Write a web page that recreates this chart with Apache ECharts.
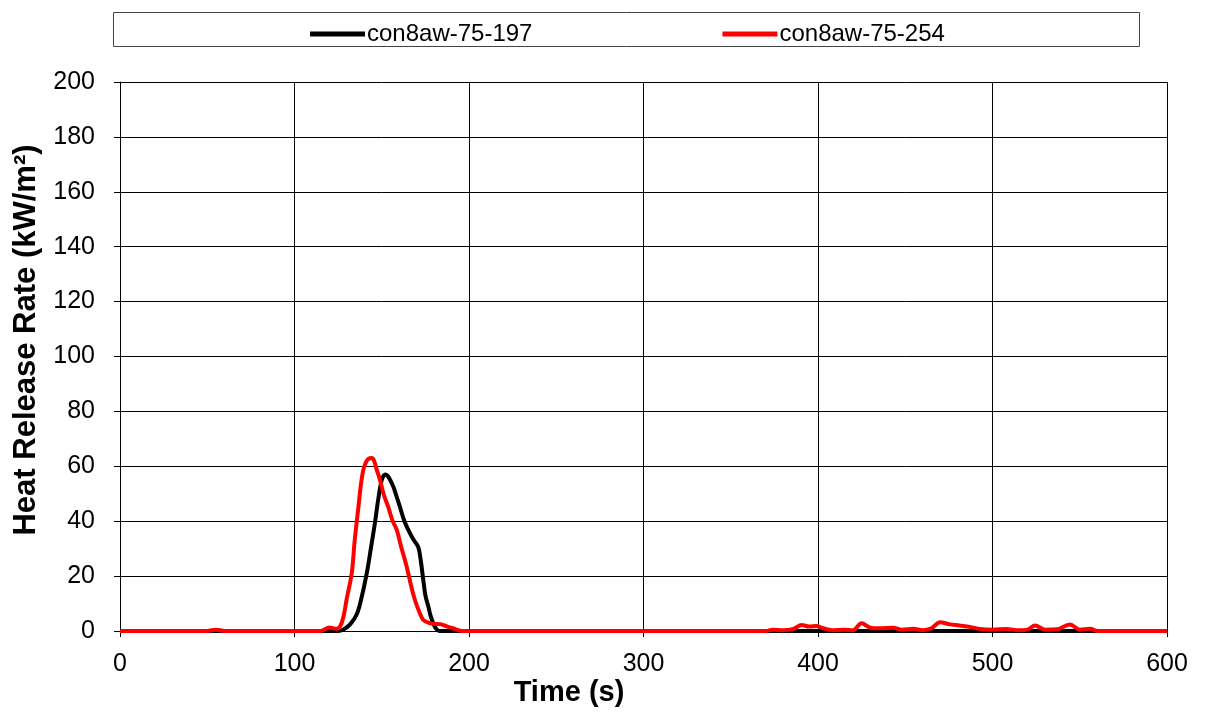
<!DOCTYPE html>
<html><head><meta charset="utf-8">
<script src="https://cdn.jsdelivr.net/npm/echarts@6/dist/echarts.min.js"></script>
<style>html,body{margin:0;padding:0;background:#fff}#c{width:1206px;height:714px}</style>
</head><body><div id="c"></div>
<script>
var seriesNames = ['con8aw-75-197', 'con8aw-75-254'];
var time197 = [0,125,128,132,135.6,138,141.4,144,146,148,150,152,154,156.6,158.5,160.5,163,166.2,168.5,171,172.5,173.8,175,176.7,178,179.5,181,183,600];
var hrr197  = [0,0,0.5,2.5,6,11,21,31,39,48,55,57,56,52.6,49,45,40,35.6,33,30.5,25,18.6,13,8.9,5.5,2.8,1,0,0];
var time254 = [0,50,55,60,115,120,124,126,128,130,132.8,134.5,136.6,138,139.4,141,142.5,144.2,145.5,147,149,151,153.8,156,158.6,161,164.3,167,169,171.5,173.8,177,180,183.4,186,188,190.8,193,196,370,374,380,386,390.6,395,399,403,408,415,420,425,430,436,443,448,454.5,460,465,470,475,481,487,493,500,508,515,520,524.4,530,537,544.4,550,556,560,600];
var hrr254  = [0,0,0.5,0,0,1.3,0.8,1.5,5,12,21,33,45,53,58.6,61.5,62.8,63,62.2,59,55,50,45,40.5,36.8,31,23.4,16,11.3,7,4,3,2.6,2.5,2,1.5,1,0.5,0,0,0.5,0.3,0.8,2.2,1.6,1.8,1,0.3,0.5,0.3,2.8,1.2,1,1.2,0.5,0.8,0.3,1,3.2,2.5,2,1.5,0.7,0.5,0.7,0.3,0.5,2,0.5,0.6,2.4,0.5,0.8,0,0];
var xTitle = 'Time (s)';
var yTitle = 'Heat Release Rate (kW/m²)';

function pairs(t, v) { return t.map(function (x, i) { return [x, v[i]]; }); }
var font = '"Liberation Sans", Arial, sans-serif';
var chart = echarts.init(document.getElementById('c'), null, {renderer: 'canvas'});
chart.setOption({
  animation: false,
  backgroundColor: '#fff',
  grid: {left: 120, right: 39, top: 82, bottom: 83, containLabel: false},
  legend: {
    left: 305, top: 17, itemGap: 190, itemWidth: 55, itemHeight: 5, icon: 'rect',
    textStyle: {fontFamily: font, fontSize: 24, color: '#000', padding: [0, 0, 0, -3]},
    data: seriesNames
  },
  graphic: [
    {type: 'rect', shape: {x: 113.5, y: 12.5, width: 1026, height: 34}, style: {fill: 'none', stroke: '#444', lineWidth: 1}, z: -1},
    {type: 'text', x: 569, y: 693, style: {text: xTitle, font: 'bold 29px "Liberation Sans", Arial, sans-serif', fill: '#000', align: 'center', verticalAlign: 'middle'}},
    {type: 'text', x: 26, y: 340, rotation: Math.PI / 2, style: {text: yTitle, font: 'bold 31px "Liberation Sans", Arial, sans-serif', fill: '#000', align: 'center', verticalAlign: 'middle'}}
  ],
  xAxis: {
    type: 'value', min: 0, max: 600, interval: 100,
    axisLine: {show: true, onZero: false, lineStyle: {color: '#000', width: 1}},
    axisTick: {show: true, inside: false, length: 6, lineStyle: {color: '#000'}},
    axisLabel: {fontFamily: font, fontSize: 25, color: '#000', margin: 21},
    splitLine: {show: true, lineStyle: {color: '#000', width: 1}}
  },
  yAxis: {
    type: 'value', min: 0, max: 200, interval: 20,
    axisLine: {show: true, lineStyle: {color: '#000', width: 1}},
    axisTick: {show: true, inside: false, length: 6, lineStyle: {color: '#000'}},
    axisLabel: {fontFamily: font, fontSize: 25, color: '#000', margin: 25},
    splitLine: {show: true, lineStyle: {color: '#000', width: 1}}
  },
  series: [
    {name: seriesNames[0], type: 'line', data: pairs(time197, hrr197), showSymbol: false, symbol: 'none', smooth: 0.35,
     lineStyle: {color: '#000', width: 4}, itemStyle: {color: '#000'}},
    {name: seriesNames[1], type: 'line', data: pairs(time254, hrr254), showSymbol: false, symbol: 'none', smooth: 0.35,
     lineStyle: {color: '#ff0000', width: 4}, itemStyle: {color: '#ff0000'}}
  ]
});
</script></body></html>
